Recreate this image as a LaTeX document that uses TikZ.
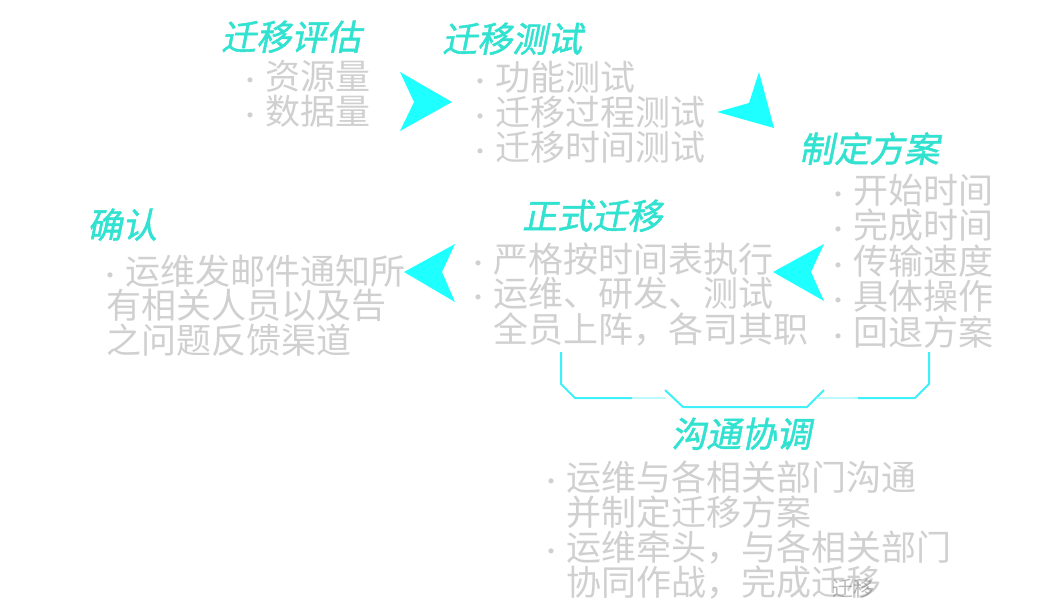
\documentclass[tikz,border=0pt]{standalone}
\usepackage{fontspec}
\newfontfamily\cjk{Noto Sans CJK SC}
\newfontfamily\cjktitle{Noto Sans CJK SC}[FakeSlant=0.2,FakeBold=1.4]
\definecolor{cTitle}{RGB}{50,226,208}
\definecolor{cText}{RGB}{208,208,208}
\definecolor{cArrow}{RGB}{30,255,255}
\definecolor{cBrk}{RGB}{64,240,248}
\newcommand\bul{\llap{{\fontsize{24}{24}\selectfont ·}\hspace{3pt}}}
\tikzset{
  titletext/.style={font=\cjktitle\fontsize{35}{35}\selectfont, text=cTitle, inner sep=0pt, anchor=base west},
  bodytext/.style={font=\cjk\fontsize{35}{35}\selectfont, text=cText, inner sep=0pt, anchor=base west},
  arrowhead/.style={fill=cArrow, draw=none},
  brkline/.style={draw=cBrk, line width=2pt},
  brkfade/.style={draw=cBrk!35, line width=2pt}
}
\begin{document}
\begin{tikzpicture}[x=1pt,y=-1pt]
\useasboundingbox (0,0) rectangle (1054,608);
\fill[white] (0,0) rectangle (1054,608);
% block 1
\node[titletext] (t1) at (221,50) {迁移评估};
\node[bodytext] (b1a) at (265,89) {\bul 资源量};
\node[bodytext] (b1b) at (265,124) {\bul 数据量};
% block 2
\node[titletext] (t2) at (442,52) {迁移测试};
\node[bodytext] (b2a) at (495,90) {\bul 功能测试};
\node[bodytext] (b2b) at (495,125) {\bul 迁移过程测试};
\node[bodytext] (b2c) at (495,160) {\bul 迁移时间测试};
% block 3
\node[titletext] (t3) at (799,162) {制定方案};
\node[bodytext] (b3a) at (853,203) {\bul 开始时间};
\node[bodytext] (b3b) at (853,238) {\bul 完成时间};
\node[bodytext] (b3c) at (853,274) {\bul 传输速度};
\node[bodytext] (b3d) at (853,309) {\bul 具体操作};
\node[bodytext] (b3e) at (853,345) {\bul 回退方案};
% block 4
\node[titletext] (t4) at (87,238) {确认};
\node[bodytext] (b4a) at (125,284) {\bul 运维发邮件通知所};
\node[bodytext] (b4b) at (106,318) {有相关人员以及告};
\node[bodytext] (b4c) at (106,353) {之问题反馈渠道};
% block 5
\node[titletext] (t5) at (522,229) {正式迁移};
\node[bodytext] (b5a) at (493,272) {\bul 严格按时间表执行};
\node[bodytext] (b5b) at (493,306) {\bul 运维、研发、测试};
\node[bodytext] (b5c) at (493,342) {全员上阵，各司其职};
% block 6
\node[titletext] (t6) at (671,447) {沟通协调};
\node[bodytext] (b6a) at (566,490) {\bul 运维与各相关部门沟通};
\node[bodytext] (b6b) at (566,525) {并制定迁移方案};
\node[bodytext] (b6c) at (566,560) {\bul 运维牵头，与各相关部门};
\node[bodytext] (b6d) at (566,595) {协同作战，完成迁移};
\node[font=\cjk\fontsize{21}{15}\selectfont, text=black!60, opacity=0.45, inner sep=0pt, anchor=base west] (ghost) at (832,596) {迁移};
% arrowheads
\fill[arrowhead] (452,102) -- (400,72) -- (414,102) -- (400,131) -- cycle;
\fill[arrowhead] (774,128) -- (759,72) -- (749,103) -- (717,112) -- cycle;
\fill[arrowhead] (773,272) -- (824,244) -- (811,272) -- (824,301) -- cycle;
\fill[arrowhead] (404,272) -- (455,244) -- (442,272) -- (455,302) -- cycle;
% bracket
\draw[brkline] (561,352) -- (561,384) -- (575,398) -- (632,398);
\draw[brkfade] (632,398) -- (666,398);
\draw[brkline] (665,390) -- (683,407) -- (807,407) -- (824,390);
\draw[brkfade] (817,398) -- (858,398);
\draw[brkline] (858,398) -- (915,398) -- (929,384) -- (929,352);
\end{tikzpicture}
\end{document}
